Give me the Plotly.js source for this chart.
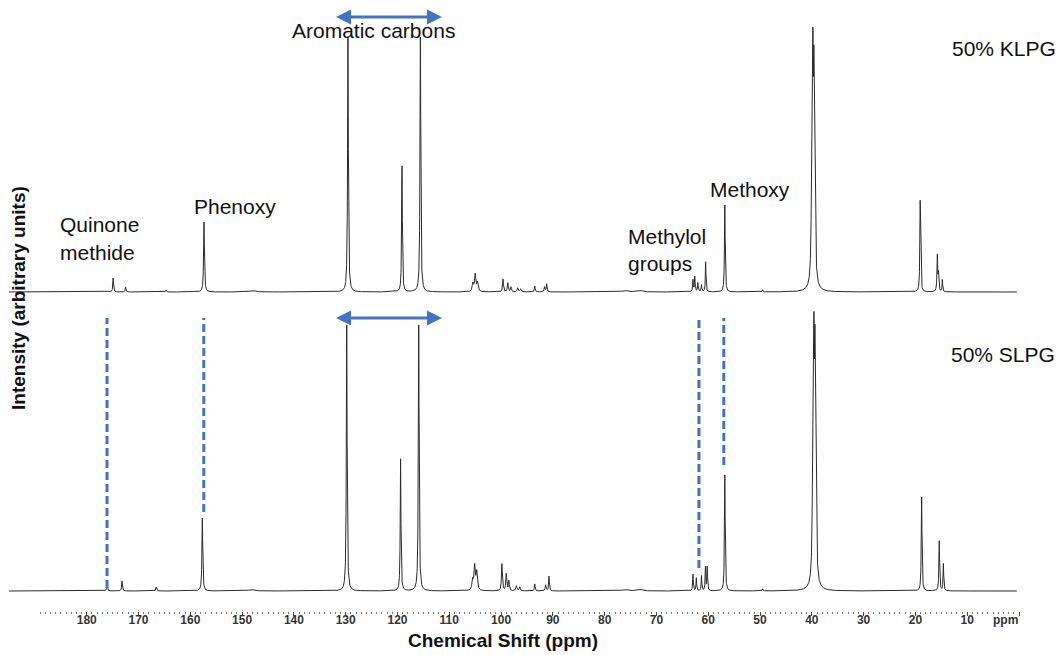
<!DOCTYPE html>
<html>
<head>
<meta charset="utf-8">
<script src="https://cdn.plot.ly/plotly-3.0.1.min.js"></script>
<style>
  html, body { margin: 0; padding: 0; background: #fff; }
  #chart { width: 1060px; height: 655px; }
</style>
</head>
<body>
<div id="chart"></div>
<script>
// 13C NMR peak tables (chemical shift in ppm, intensity in arbitrary units, half-width in ppm)
const klpgShift  = [174.9, 172.5, 164.7, 157.36, 148.0, 129.56, 119.13, 115.58,
                    105.45, 105.0, 104.55, 99.63, 98.7, 98.1, 96.8, 96.2, 93.5, 91.6, 91.2,
                    76.1, 73.2, 62.95, 62.6, 62.0, 61.3, 60.5, 56.8, 49.5,
                    40.0, 39.8, 39.6, 39.4, 39.7, 19.07, 15.77, 15.55, 14.8];
const klpgHeight = [14, 5, 2, 70, 1.5, 255, 128, 255,
                    8, 17, 9, 13, 9, 5, 4, 3, 6, 5, 8,
                    1.5, 1.5, 12, 15, 9, 7, 30, 87, 2,
                    120, 185, 170, 80, 18, 93, 36, 18, 12];
const klpgWidth  = [0.08, 0.08, 0.08, 0.09, 0.6, 0.09, 0.08, 0.09,
                    0.15, 0.15, 0.15, 0.1, 0.1, 0.1, 0.12, 0.12, 0.08, 0.1, 0.08,
                    0.6, 0.6, 0.08, 0.08, 0.08, 0.08, 0.07, 0.08, 0.08,
                    0.1, 0.1, 0.1, 0.1, 0.45, 0.08, 0.08, 0.08, 0.07];

const slpgShift  = [176.08, 173.19, 166.6, 157.68, 148.2, 129.8, 119.4, 115.9,
                    105.5, 105.1, 104.7, 99.84, 99.0, 98.5, 97.05, 96.4, 93.5, 91.4, 90.75,
                    76.1, 73.2, 62.95, 62.3, 61.3, 60.55, 60.2, 56.8, 49.5,
                    39.8, 39.6, 39.4, 39.2, 39.5, 18.8, 15.4, 14.6];
const slpgHeight = [8, 10, 4, 73, 1.5, 266, 132, 266,
                    10, 24, 18, 27, 17, 10, 5, 4, 7, 6, 15,
                    1.5, 1.5, 17, 13, 15, 24, 24, 116, 2,
                    130, 200, 185, 85, 18, 94, 50, 27];
const slpgWidth  = [0.08, 0.08, 0.08, 0.09, 0.6, 0.09, 0.08, 0.09,
                    0.15, 0.15, 0.15, 0.1, 0.1, 0.1, 0.12, 0.12, 0.08, 0.1, 0.08,
                    0.6, 0.6, 0.07, 0.07, 0.07, 0.07, 0.07, 0.08, 0.08,
                    0.1, 0.1, 0.1, 0.1, 0.45, 0.08, 0.08, 0.07];

// Assignment markers on the lower spectrum: shift and lower end of each dashed guide
const guideShift = [176.08, 157.4, 61.8, 57.0];
const guideEnd   = [3, 79, 23, 126];
const guideTop   = 273;

// Axis ticks
const majorTicks = [0, 10, 20, 30, 40, 50, 60, 70, 80, 90, 100, 110, 120, 130, 140, 150, 160, 170, 180];
const majorLabels = ['', '10', '20', '30', '40', '50', '60', '70', '80', '90', '100', '110', '120', '130', '140', '150', '160', '170', '180'];
const minorTicks = [];
for (let v = 0; v <= 190; v += 1) { if (v % 10 !== 0) minorTicks.push(v); }

// Sum of Lorentzian lines on a fine shift grid
const grid = [];
for (let s = 195.0; s >= 0.4; s -= 0.02) grid.push(+s.toFixed(2));
function spectrum(shifts, heights, widths) {
  return grid.map(x => {
    let y = 0;
    for (let i = 0; i < shifts.length; i++) {
      const d = x - shifts[i], w = widths[i];
      y += heights[i] * w * w / (d * d + w * w);
    }
    return y;
  });
}

// Page geometry helpers (pixels -> paper fractions)
const L = 8, R = 41, T = 0, B = 44, W = 1060, H = 655;
const plotW = W - L - R, plotH = H - T - B;
const px = x => (x - L) / plotW;
const py = y => (plotH - (y - T)) / plotH;

const lineStyle = { color: '#2a2a2a', width: 1 };
const traces = [
  { x: grid, y: spectrum(klpgShift, klpgHeight, klpgWidth), xaxis: 'x', yaxis: 'y2',
    type: 'scatter', mode: 'lines', line: lineStyle, name: '50% KLPG', hoverinfo: 'skip' },
  { x: grid, y: spectrum(slpgShift, slpgHeight, slpgWidth), xaxis: 'x', yaxis: 'y',
    type: 'scatter', mode: 'lines', line: lineStyle, name: '50% SLPG', hoverinfo: 'skip' }
];

const fontFamily = 'Liberation Sans, Arial, sans-serif';
const labelFont = { family: fontFamily, size: 21, color: '#111' };
function label(text, x, y, xanchor) {
  return { text: text, xref: 'paper', yref: 'paper', x: px(x), y: py(y),
           xanchor: xanchor || 'left', yanchor: 'middle', showarrow: false, font: labelFont };
}
function doubleArrow(x0, x1, y) {
  return { text: ' ', xref: 'paper', yref: 'paper', x: px(x1), y: py(y),
           ax: x0 - x1, ay: 0, axref: 'pixel', ayref: 'pixel', showarrow: true,
           arrowside: 'end+start', arrowhead: 2, startarrowhead: 2, arrowsize: 1, startarrowsize: 1,
           arrowwidth: 3, arrowcolor: '#4472C4', standoff: 0, startstandoff: 0 };
}

const annotations = [
  label('Aromatic carbons', 373, 30, 'center'),
  label('Quinone', 58, 224),
  label('methide', 58, 253),
  label('Phenoxy', 235, 207, 'center'),
  label('Methylol', 626, 236),
  label('groups', 626, 263),
  label('Methoxy', 708, 189),
  label('50% KLPG', 1058, 48, 'right'),
  label('50% SLPG', 1057, 355, 'right'),
  doubleArrow(333, 442, 17),
  doubleArrow(333, 442, 318),
  { text: 'ppm', xref: 'paper', yref: 'paper', x: px(1005), y: py(620), xanchor: 'center', yanchor: 'middle',
    showarrow: false, font: { family: fontFamily, size: 12, color: '#333', weight: 'bold' } },
  { text: 'Chemical Shift (ppm)', xref: 'paper', yref: 'paper', x: px(503), y: py(640), xanchor: 'center', yanchor: 'middle',
    showarrow: false, font: { family: fontFamily, size: 19, color: '#111', weight: 'bold' } },
  { text: 'Intensity (arbitrary units)', xref: 'paper', yref: 'paper', x: px(18), y: py(298), xanchor: 'center', yanchor: 'middle',
    textangle: -90, showarrow: false, font: { family: fontFamily, size: 19, color: '#111', weight: 'bold' } }
];

const shapes = guideShift.map((s, i) => ({
  type: 'line', xref: 'x', yref: 'y', x0: s, x1: s, y0: guideEnd[i], y1: guideTop,
  line: { color: '#4472C4', width: 3, dash: '8px,4px' }
}));

const layout = {
  width: W, height: H,
  margin: { l: L, r: R, t: T, b: B, pad: 0 },
  paper_bgcolor: '#fff', plot_bgcolor: '#fff',
  showlegend: false,
  xaxis: {
    range: [195.2, 0], showgrid: false, zeroline: false, showline: false,
    ticks: 'outside', tickmode: 'array', tickvals: majorTicks, ticktext: majorLabels,
    ticklen: 4, tickwidth: 1, tickcolor: '#444', ticklabelstandoff: -6,
    tickfont: { family: fontFamily, size: 12, color: '#333', weight: 'bold' },
    minor: { tickmode: 'array', tickvals: minorTicks, ticklen: 2, tickwidth: 1, tickcolor: '#777', showgrid: false },
    anchor: 'y', fixedrange: true
  },
  yaxis: { domain: [0, 0.49], range: [-20, 279.4], visible: false, fixedrange: true },
  yaxis2: { domain: [0.5, 1], range: [-13.5, 292], visible: false, fixedrange: true, anchor: 'x' },
  annotations: annotations,
  shapes: shapes
};

Plotly.newPlot('chart', traces, layout, { staticPlot: true, displayModeBar: false });
</script>
</body>
</html>
